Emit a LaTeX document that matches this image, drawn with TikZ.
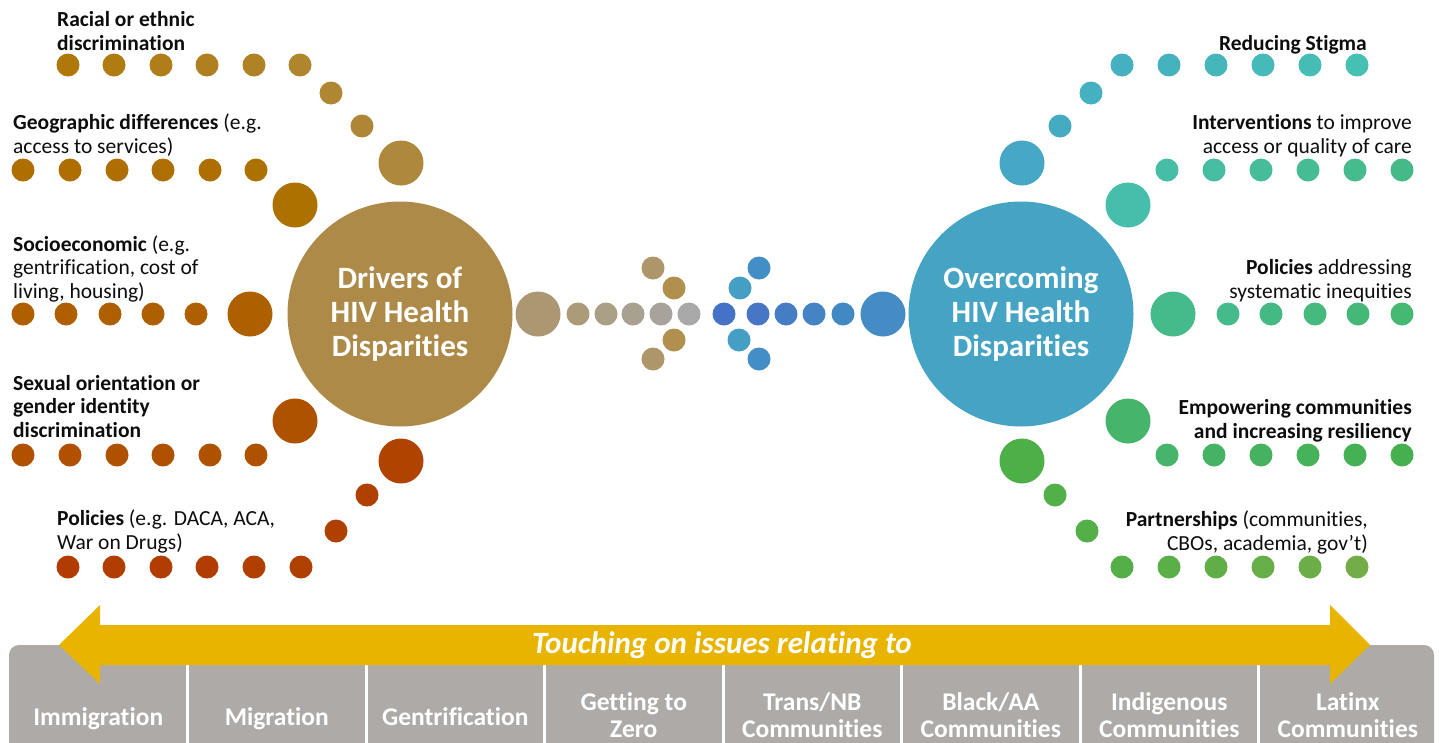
\documentclass[tikz,border=0pt]{standalone}
\usepackage{fontspec}
\setmainfont{Carlito}[Ligatures=NoCommon]
\definecolor{txt}{HTML}{0D0D0D}
\definecolor{drv}{HTML}{AE8A48}
\definecolor{ovc}{HTML}{45A3C4}
\definecolor{barg}{HTML}{ADAAA7}
\definecolor{arry}{HTML}{E8B400}
% left rows
\definecolor{raA}{HTML}{B0780A}\definecolor{raB}{HTML}{AF852D}
\definecolor{geA}{HTML}{AE6E00}\definecolor{geB}{HTML}{AD7100}
\definecolor{soA}{HTML}{AF5E00}\definecolor{soB}{HTML}{AE6000}
\definecolor{seA}{HTML}{B05000}\definecolor{seB}{HTML}{AF5200}
\definecolor{poA}{HTML}{B23C00}\definecolor{poB}{HTML}{B04000}
% right rows
\definecolor{rsA}{HTML}{45B0C0}\definecolor{rsB}{HTML}{45C0B2}
\definecolor{inA}{HTML}{46BEA6}\definecolor{inB}{HTML}{45BA88}
\definecolor{rpA}{HTML}{45BA8A}\definecolor{rpB}{HTML}{45B872}
\definecolor{emA}{HTML}{46B46A}\definecolor{emB}{HTML}{46B04E}
\definecolor{paA}{HTML}{55AF48}\definecolor{paB}{HTML}{72AD48}
\newcommand\dotrow[6]{\foreach \xx [count=\ii] in {#3}{\pgfmathtruncatemacro\pp{100-(\ii-1)*100/#6}\node[dot,fill=#4!\pp!#5] (#1\ii) at (\xx,#2) {};}}
\begin{document}
\begin{tikzpicture}[x=1pt,y=-1pt,
  dot/.style={circle,inner sep=0pt,minimum size=23pt},
  bigdot/.style={circle,inner sep=0pt,minimum size=45pt},
  hub/.style={circle,inner sep=0pt,minimum size=225pt,text=white,align=center,font=\bfseries\fontsize{31}{34}\selectfont},
  lbl/.style={font=\fontsize{21.5}{23.5}\selectfont,text=txt,inner sep=0pt},
  boxlbl/.style={font=\bfseries\fontsize{25.5}{27}\selectfont,text=white,inner sep=0pt,align=center,anchor=base}]
\clip (0,0) rectangle (1439,742);
\fill[white] (0,0) rectangle (1439,742);
% ---------- left hub
\node[hub,fill=drv] (drivers) at (400,314) {Drivers of\\HIV Health\\Disparities};
% racial row
\dotrow{ra}{65}{68,114,161,207,254,300}{raA}{raB}{5}
\node[dot,fill=raB!85!drv] (raarc1) at (331,93) {};
\node[dot,fill=raB!70!drv] (raarc2) at (362,126) {};
\node[bigdot,fill=raB!40!drv] (rabig) at (401,163) {};
% geographic row
\dotrow{ge}{170}{23,70,117,163,210,256}{geA}{geB}{5}
\node[bigdot,fill=geB] (gebig) at (295,205) {};
% socioeconomic row
\dotrow{so}{314}{23,66,110,153,196}{soA}{soB}{4}
\node[bigdot,fill=soB] (sobig) at (250,314) {};
% sexual orientation row
\dotrow{se}{455}{23,70,117,163,210,256}{seA}{seB}{5}
\node[bigdot,fill=seB] (sebig) at (295,421) {};
% policies row
\dotrow{po}{567}{68,114,161,207,254,301}{poA}{poB}{5}
\node[dot,fill=poB] (poarc1) at (336,531) {};
\node[dot,fill=poB] (poarc2) at (367,495) {};
\node[bigdot,fill=poB!90!soB] (pobig) at (401,461) {};
% left labels (anchor = baseline of last line)
\node[lbl,anchor=base west,align=left] (lracial) at (57,50) {\textbf{Racial or ethnic}\\\textbf{discrimination}};
\node[lbl,anchor=base west,align=left] (lgeo) at (13,153) {\textbf{Geographic differences} (e.g.\\access to services)};
\node[lbl,anchor=base west,align=left] (lsocio) at (13,298) {\textbf{Socioeconomic} (e.g.\\gentrification, cost of\\living, housing)};
\node[lbl,anchor=base west,align=left] (lsex) at (13,437) {\textbf{Sexual orientation or}\\\textbf{gender identity}\\\textbf{discrimination}};
\node[lbl,anchor=base west,align=left] (lpol) at (57,549) {\textbf{Policies} (e.g. DACA, ACA,\\War on Drugs)};
% ---------- centre arrows
\node[bigdot,fill={rgb,255:red,171;green,152;blue,115}] (cl0) at (538,314) {};
\node[dot,fill={rgb,255:red,171;green,155;blue,120}] (cl1) at (578,314) {};
\node[dot,fill={rgb,255:red,170;green,158;blue,132}] (cl2) at (606,314) {};
\node[dot,fill={rgb,255:red,168;green,161;blue,143}] (cl3) at (633,314) {};
\node[dot,fill={rgb,255:red,167;green,163;blue,156}] (cl4) at (661,314) {};
\node[dot,fill={rgb,255:red,168;green,168;blue,168}] (cl5) at (689,314) {};
\node[dot,fill={rgb,255:red,173;green,150;blue,105}] (clh1) at (653,268) {};
\node[dot,fill={rgb,255:red,176;green,143;blue,79}] (clh2) at (674,288) {};
\node[dot,fill={rgb,255:red,176;green,143;blue,79}] (clh3) at (674,340) {};
\node[dot,fill={rgb,255:red,173;green,150;blue,105}] (clh4) at (653,359) {};
\node[dot,fill={rgb,255:red,68;green,114;blue,196}] (cr1) at (724,314) {};
\node[dot,fill={rgb,255:red,70;green,118;blue,196}] (cr2) at (758,314) {};
\node[dot,fill={rgb,255:red,69;green,125;blue,196}] (cr3) at (786,314) {};
\node[dot,fill={rgb,255:red,68;green,131;blue,196}] (cr4) at (814,314) {};
\node[dot,fill={rgb,255:red,66;green,137;blue,196}] (cr5) at (843,314) {};
\node[bigdot,fill={rgb,255:red,69;green,140;blue,196}] (cr0) at (883,314) {};
\node[dot,fill={rgb,255:red,67;green,142;blue,196}] (crh1) at (759,268) {};
\node[dot,fill={rgb,255:red,69;green,158;blue,196}] (crh2) at (740,288) {};
\node[dot,fill={rgb,255:red,69;green,158;blue,196}] (crh3) at (739,340) {};
\node[dot,fill={rgb,255:red,67;green,142;blue,196}] (crh4) at (759,359) {};
% ---------- right hub
\node[hub,fill=ovc] (overcoming) at (1021,314) {Overcoming\\HIV Health\\Disparities};
% reducing stigma row
\dotrow{rs}{65}{1122,1169,1216,1263,1310,1357}{rsA}{rsB}{5}
\node[dot,fill=rsA] (rsarc1) at (1091,93) {};
\node[dot,fill=rsA!60!ovc] (rsarc2) at (1060,126) {};
\node[bigdot,fill=rsA!30!ovc] (rsbig) at (1022,163) {};
% interventions row
\dotrow{in}{170}{1167,1214,1261,1308,1355,1402}{inA}{inB}{5}
\node[bigdot,fill={rgb,255:red,69;green,190;blue,171}] (inbig) at (1128,205) {};
% policies row
\dotrow{rp}{314}{1228,1271,1315,1358,1402}{rpA}{rpB}{4}
\node[bigdot,fill=rpA] (rpbig) at (1173,314) {};
% empowering row
\dotrow{em}{455}{1167,1214,1261,1308,1355,1402}{emA}{emB}{5}
\node[bigdot,fill=emA] (embig) at (1128,421) {};
% partnerships row
\dotrow{pa}{567}{1122,1169,1216,1263,1310,1357}{paA}{paB}{5}
\node[dot,fill=paA] (paarc1) at (1087,531) {};
\node[dot,fill={rgb,255:red,82;green,176;blue,72}] (paarc2) at (1055,495) {};
\node[bigdot,fill={rgb,255:red,76;green,175;blue,71}] (pabig) at (1022,461) {};
% right labels (anchor = baseline of last line)
\node[lbl,anchor=base east,align=right] (rstig) at (1367,50) {\textbf{Reducing Stigma}};
\node[lbl,anchor=base east,align=right] (rint) at (1412,153) {\textbf{Interventions} to improve\\access or quality of care};
\node[lbl,anchor=base east,align=right] (rpol) at (1412,298) {\textbf{Policies} addressing\\systematic inequities};
\node[lbl,anchor=base east,align=right] (remp) at (1412,438) {\textbf{Empowering communities}\\\textbf{and increasing resiliency}};
\node[lbl,anchor=base east,align=right] (rpar) at (1368,550) {\textbf{Partnerships} (communities,\\CBOs, academia, gov’t)};
% ---------- bottom bar
\fill[barg,rounded corners=10pt] (9,645) rectangle (1434,780);
\foreach \dx in {187.5,366,544.5,723,901.5,1080,1258.5}{\draw[white,line width=3pt] (\dx,645) -- (\dx,745);}
\node[boxlbl] (b1) at (98.25,725) {Immigration};
\node[boxlbl] (b2) at (276.75,725) {Migration};
\node[boxlbl] (b3) at (455.25,725) {Gentrification};
\node[boxlbl] (b4) at (633.75,737) {Getting to\\Zero};
\node[boxlbl] (b5) at (812.25,737) {Trans/NB\\Communities};
\node[boxlbl] (b6) at (990.75,737) {Black/AA\\Communities};
\node[boxlbl] (b7) at (1169.25,737) {Indigenous\\Communities};
\node[boxlbl] (b8) at (1347.75,737) {Latinx\\Communities};
% yellow double arrow
\fill[arry] (59,645) -- (100,605) -- (100,625) -- (1330,625) -- (1330,605) -- (1370,645) -- (1330,684) -- (1330,665) -- (100,665) -- (100,684) -- cycle;
\node[font=\bfseries\itshape\fontsize{31}{34}\selectfont,text=white,anchor=base,inner sep=0pt] (touch) at (722,653) {Touching on issues relating to};
\end{tikzpicture}
\end{document}
